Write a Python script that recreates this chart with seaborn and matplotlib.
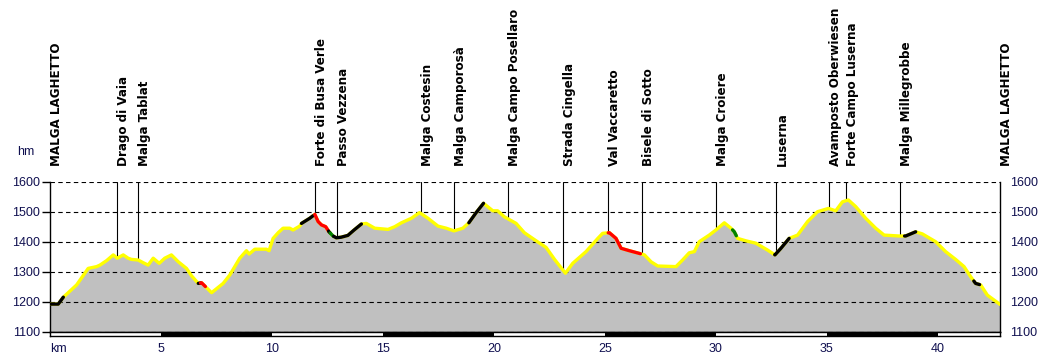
import numpy as np
import pandas as pd
import seaborn as sns
import matplotlib.pyplot as plt
from matplotlib.transforms import blended_transform_factory

# elevation profile (km, m)
km = [0, 0.37, 0.6, 1.2, 1.72, 2.1, 2.25, 2.55, 2.85, 3.03, 3.3, 3.52, 3.67, 3.97,
      4.2, 4.42, 4.65, 4.92, 5.17, 5.47, 5.78, 6.15, 6.38, 6.68, 6.83, 6.98, 7.28,
      7.58, 7.8, 8.1, 8.55, 8.85, 8.97, 9.23, 9.75, 9.87, 10.05, 10.28, 10.5, 10.8,
      10.95, 11.25, 11.33, 11.7, 11.93, 12.08, 12.23, 12.42, 12.57, 12.75, 12.9,
      13.12, 13.42, 13.7, 14.03, 14.25, 14.63, 15.23, 15.53, 15.83, 16.28, 16.65,
      17.03, 17.48, 17.85, 18.2, 18.6, 18.87, 19.2, 19.53, 19.95, 20.17, 20.47,
      21.0, 21.37, 21.9, 22.35, 22.73, 23.22, 23.55, 24.15, 24.68, 24.9, 25.2,
      25.5, 25.73, 26.1, 26.55, 26.78, 27.08, 27.38, 28.2, 28.5, 28.8, 29.03,
      29.25, 29.7, 30.0, 30.38, 30.68, 30.83, 30.98, 31.35, 31.8, 32.33, 32.66,
      32.93, 33.3, 33.68, 34.13, 34.58, 35.07, 35.4, 35.7, 35.97, 36.3, 36.75,
      37.2, 37.58, 38.25, 38.55, 39.0, 39.3, 39.9, 40.35, 40.8, 41.18, 41.48,
      41.7, 41.93, 42.23, 42.8]
elev = [1193, 1193, 1216, 1257, 1312, 1318, 1323, 1338, 1357, 1346, 1357, 1346, 1342, 1340,
        1331, 1323, 1346, 1329, 1346, 1357, 1334, 1312, 1287, 1262, 1264, 1253, 1231,
        1249, 1262, 1290, 1346, 1371, 1360, 1376, 1376, 1371, 1412, 1431, 1446, 1446,
        1440, 1453, 1462, 1479, 1492, 1468, 1457, 1451, 1434, 1420, 1414,
        1416, 1422, 1440, 1460, 1462, 1446, 1442, 1451, 1464, 1479, 1498,
        1479, 1453, 1446, 1437, 1446, 1464, 1498, 1529, 1504, 1504, 1484,
        1462, 1431, 1404, 1382, 1342, 1296, 1329, 1368, 1412, 1429, 1431,
        1412, 1379, 1371, 1362, 1357, 1334, 1320, 1318, 1340, 1364, 1368,
        1401, 1423, 1440, 1464, 1446, 1434, 1412, 1404, 1396, 1373, 1357,
        1379, 1412, 1423, 1468, 1501, 1512, 1504, 1534, 1540, 1518, 1479,
        1446, 1423, 1420, 1420, 1434, 1427, 1401, 1368, 1342, 1318, 1284,
        1262, 1257, 1223, 1192]

# coloured stretches of the track
seg_start = [0, 6.68, 6.78, 11.33, 11.93, 12.55, 12.62, 12.78, 18.87, 25.15, 30.75, 32.65, 38.5, 41.62]
seg_end = [0.6, 6.78, 7.0, 11.85, 12.55, 12.62, 12.78, 14.03, 19.53, 26.6, 30.92, 33.3, 39.0, 41.88]
seg_color = ['black', 'black', 'red', 'black', 'red', 'black', 'green', 'black', 'black',
             'red', 'green', 'black', 'black', 'black']

# waypoints
wp_names = ['MALGA LAGHETTO', 'Drago di Vaia', 'Malga Tablat', 'Forte di Busa Verle',
            'Passo Vezzena', 'Malga Costesin', 'Malga Camporosà', 'Malga Campo Posellaro',
            'Strada Cingella', 'Val Vaccaretto', 'Bisele di Sotto', 'Malga Croiere',
            'Luserna', 'Avamposto Oberwiesen', 'Forte Campo Luserna', 'Malga Millegrobbe',
            'MALGA LAGHETTO']
wp_km = [0, 3.02, 3.96, 11.94, 12.93, 16.72, 18.22, 20.62, 23.1, 25.14, 26.67, 30.0,
         32.7, 35.1, 35.86, 38.29, 42.8]

yticks = [1100, 1200, 1300, 1400, 1500, 1600]
xticks = [0, 5, 10, 15, 20, 25, 30, 35, 40]
xticklabels = ['km', '5', '10', '15', '20', '25', '30', '35', '40']

sns.set_style("white")
plt.rcParams['font.family'] = ['Liberation Sans', 'DejaVu Sans']

df = pd.DataFrame({'km': km, 'elev': elev})
x_max = km[-1]
y_min, y_max = yticks[0], yticks[-1]

fig = plt.figure(figsize=(10.5, 3.6), dpi=100)
ax = fig.add_axes([50 / 1050, 28 / 360, 950 / 1050, 150 / 360])
strip = fig.add_axes([50 / 1050, 24 / 360, 950 / 1050, 4 / 360])

ax.fill_between(df['km'], df['elev'], y_min, color='#c0c0c0', lw=0, zorder=1)
sns.lineplot(data=df, x='km', y='elev', color='#ffff00', lw=2.4, ax=ax,
             estimator=None, zorder=4)

for k0, k1, c in zip(seg_start, seg_end, seg_color):
    inside = [k for k in km if k0 < k < k1]
    xs = np.array([k0] + inside + [k1])
    ys = np.interp(xs, km, elev)
    sns.lineplot(x=xs, y=ys, color=c, lw=2.4, ax=ax, estimator=None, zorder=5)

# waypoint labels with leader lines down to the profile
trans = blended_transform_factory(ax.transData, ax.transAxes)
for name, k in zip(wp_names, wp_km):
    if 0 < k < x_max:
        ax.plot([k, k], [y_max, np.interp(k, km, elev)], color='black', lw=0.8, zorder=3)
    ax.text(k, 1.107, name, transform=trans, rotation=90, ha='left', va='bottom',
            fontsize=9.5, fontweight='bold', fontstretch='condensed',
            family='DejaVu Sans', color='black', clip_on=False)

ax.set_xlim(0, x_max)
ax.set_ylim(y_min, y_max)
ax.set_yticks(yticks)
ax.set_xticks([])
ax.set_xlabel('')
ax.set_ylabel('')
ax.grid(axis='y', color='black', linestyle=(0, (4, 3)), linewidth=0.8)
ax.set_axisbelow(False)
ax.spines['top'].set_visible(False)
for s in ['left', 'right', 'bottom']:
    ax.spines[s].set_color('black')
    ax.spines[s].set_linewidth(1)
ax.tick_params(axis='y', left=True, right=False, labelleft=True, labelright=True,
               length=6, width=1, color='black', pad=1, labelsize=9,
               labelcolor='#101050')

ax.text(-0.025, 1.2, 'hm', transform=ax.transAxes, ha='center', va='center',
        fontsize=9, color='#101050')

# alternating 5 km scale bar
strip.set_xlim(0, x_max)
strip.set_ylim(0, 1)
edges = list(range(0, int(x_max) + 5, 5))
for i in range(len(edges) - 1):
    strip.axvspan(edges[i], min(edges[i + 1], x_max),
                  color='black' if i % 2 else 'white', lw=0)
strip.set_yticks([])
strip.set_xticks(xticks)
strip.set_xticklabels(xticklabels)
strip.tick_params(axis='x', length=0, pad=5, labelsize=9, labelcolor='#101050')
strip.get_xticklabels()[0].set_ha('left')
for s in strip.spines.values():
    s.set_color('black')
    s.set_linewidth(1)
    s.set_visible(True)

fig.savefig('out.png', dpi=100)
